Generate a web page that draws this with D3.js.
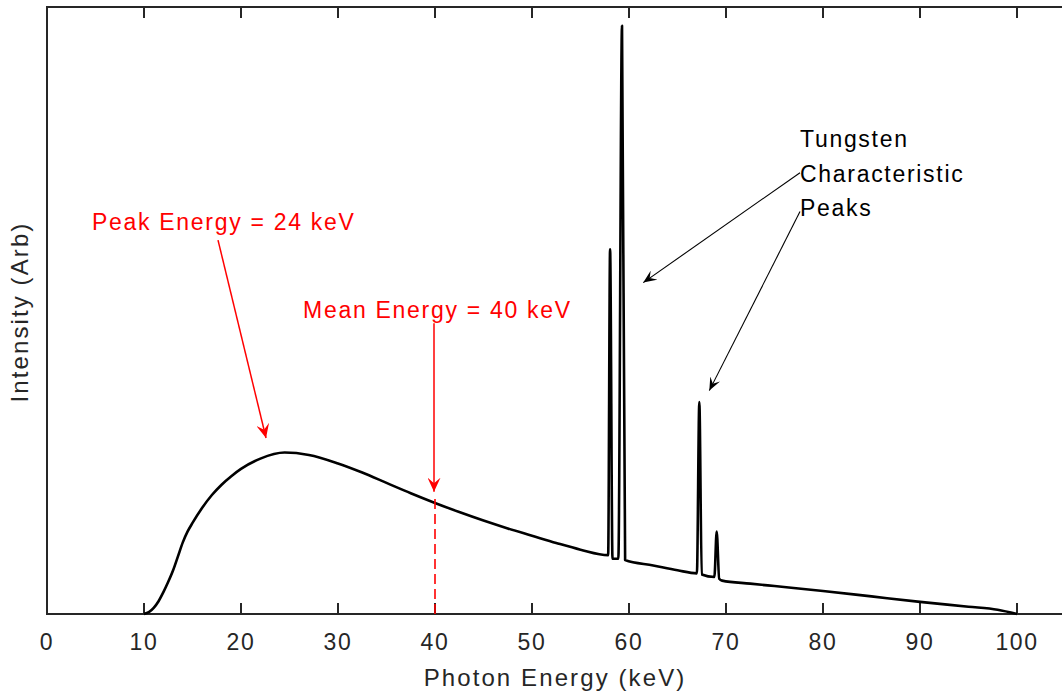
<!DOCTYPE html>
<html lang="en">
<head>
<meta charset="UTF-8">
<title>X-ray Spectrum</title>
<script src="https://cdnjs.cloudflare.com/ajax/libs/d3/7.8.5/d3.min.js"></script>
<style>
  body { margin: 0; background: #fff; }
  svg text { font-family: "Liberation Sans", Arial, Helvetica, sans-serif; }
  .tick-label { font-size: 23px; letter-spacing: 1.6px; fill: #262626; }
  .axis-label { font-size: 24px; letter-spacing: 2.1px; fill: #262626; }
  .note { font-size: 23px; letter-spacing: 1.7px; }
</style>
</head>
<body>
<div id="wrapper"></div>
<script>
// spectrum: energy in keV, intensity in axis units (0..1)
const energy = [10, 10.5, 11, 11.5, 12, 12.5, 13, 13.5, 14, 14.5, 15, 16, 17, 18, 19, 20, 22, 24.5, 27, 30,
  32.5, 35, 37.5, 40, 42.5, 45, 47.5, 50, 52.5, 55, 57.85, 58.05, 58.3, 58.9, 59.28, 59.6, 62.5, 65, 67, 67.25, 67.5,
  68.8, 69.04, 69.3, 69.6, 72.5, 75, 80, 85, 90, 95, 98, 100];
const intensity = [0, 0.003, 0.010, 0.021, 0.036, 0.053, 0.072, 0.095, 0.118, 0.136, 0.150, 0.175, 0.196, 0.213, 0.227, 0.239, 0.256, 0.266, 0.262, 0.248,
  0.233, 0.216, 0.199, 0.183, 0.168, 0.154, 0.141, 0.129, 0.117, 0.106, 0.097, 0.601, 0.091, 0.091, 0.969, 0.089, 0.080, 0.072, 0.067, 0.349, 0.065,
  0.061, 0.136, 0.058, 0.055, 0.050, 0.046, 0.038, 0.029, 0.020, 0.012, 0.007, 0];

const xTicks = [0, 10, 20, 30, 40, 50, 60, 70, 80, 90, 100];

const peakEnergy = 24;
const meanEnergy = 40;
const peakLabel = "Peak Energy = 24 keV";
const meanLabel = "Mean Energy = 40 keV";
const tungstenLines = ["Tungsten", "Characteristic", "Peaks"];

const width = 1062, height = 695;
const margin = { top: 7, left: 47, bottom: 81 };

const x = d3.scaleLinear().domain([0, 105]).range([margin.left, margin.left + 9.7 * 105]);
const y = d3.scaleLinear().domain([0, 1]).range([height - margin.bottom, margin.top]);

const svg = d3.select("#wrapper").append("svg")
  .attr("width", width).attr("height", height);

const defs = svg.append("defs");
function head(id, color, L, W) {
  defs.append("marker")
    .attr("id", id)
    .attr("markerUnits", "userSpaceOnUse")
    .attr("viewBox", `${-L} ${-W / 2} ${L} ${W}`)
    .attr("refX", 0).attr("refY", 0)
    .attr("markerWidth", L).attr("markerHeight", W)
    .attr("orient", "auto")
    .append("path")
    .attr("d", `M0,0L${-L},${-W / 2}L${-L * 0.6},0L${-L},${W / 2}Z`)
    .attr("fill", color);
}
head("redHead", "#ff0000", 14, 13);
head("blackHead", "#000", 13, 11);

// axes box
const x0 = x(0), x1 = x(105), yb = y(0), yt = y(1);
svg.append("path")
  .attr("d", `M${x1},${yt}H${x0}V${yb}H${x1}`)
  .attr("fill", "none").attr("stroke", "#262626").attr("stroke-width", 2);

const ticks = svg.append("g");
ticks.selectAll("line.b").data(xTicks).enter().append("line")
  .attr("x1", d => x(d)).attr("x2", d => x(d))
  .attr("y1", yb).attr("y2", yb - 11)
  .attr("stroke", "#262626").attr("stroke-width", 2);
ticks.selectAll("line.t").data(xTicks).enter().append("line")
  .attr("x1", d => x(d)).attr("x2", d => x(d))
  .attr("y1", yt).attr("y2", yt + 11)
  .attr("stroke", "#262626").attr("stroke-width", 2);
ticks.selectAll("text").data(xTicks).enter().append("text")
  .attr("class", "tick-label")
  .attr("x", d => x(d)).attr("y", yb + 36)
  .attr("text-anchor", "middle")
  .text(d => d);

svg.append("text").attr("class", "axis-label")
  .attr("x", 555).attr("y", 686)
  .attr("text-anchor", "middle")
  .text("Photon Energy (keV)");

svg.append("text").attr("class", "axis-label")
  .attr("transform", "translate(28,312) rotate(-90)")
  .attr("text-anchor", "middle")
  .text("Intensity (Arb)");

// spectrum
const pts = energy.map((e, i) => [e, intensity[i]]);
const line = d3.line().x(d => x(d[0])).y(d => y(d[1])).curve(d3.curveMonotoneX);
svg.append("path").datum(pts)
  .attr("d", line)
  .attr("fill", "none").attr("stroke", "#000").attr("stroke-width", 2.6)
  .attr("stroke-linejoin", "round");

// mean energy dashed marker
const meanVal = intensity[energy.indexOf(meanEnergy)];
svg.append("line")
  .attr("x1", x(meanEnergy)).attr("x2", x(meanEnergy))
  .attr("y1", y(meanVal) - 4).attr("y2", yb)
  .attr("stroke", "#ff0000").attr("stroke-width", 1.6)
  .attr("stroke-dasharray", "10,5");

// annotations
const red = "#ff0000";
svg.append("text").attr("class", "note").attr("fill", red)
  .attr("x", x(4.64)).attr("y", y(0.633)).text(peakLabel);
svg.append("line")
  .attr("x1", x(17.63)).attr("y1", y(0.616))
  .attr("x2", x(peakEnergy - 1.42)).attr("y2", y(0.29))
  .attr("stroke", red).attr("stroke-width", 1.5)
  .attr("marker-end", "url(#redHead)");

svg.append("text").attr("class", "note").attr("fill", red)
  .attr("x", x(26.4)).attr("y", y(0.488)).text(meanLabel);
svg.append("line")
  .attr("x1", x(meanEnergy) - 1).attr("y1", y(0.479))
  .attr("x2", x(meanEnergy) - 1).attr("y2", y(0.2015))
  .attr("stroke", red).attr("stroke-width", 1.5)
  .attr("marker-end", "url(#redHead)");

svg.append("g").selectAll("text").data(tungstenLines).enter().append("text")
  .attr("class", "note").attr("fill", "#000")
  .attr("x", x(77.63))
  .attr("y", (d, i) => y(0.769) + i * 34.5)
  .text(d => d);

const blackArrows = [
  { from: [77.63, 0.727], to: [61.47, 0.546] },
  { from: [77.63, 0.663], to: [68.28, 0.368] }
];
svg.append("g").selectAll("line").data(blackArrows).enter().append("line")
  .attr("x1", d => x(d.from[0])).attr("y1", d => y(d.from[1]))
  .attr("x2", d => x(d.to[0])).attr("y2", d => y(d.to[1]))
  .attr("stroke", "#000").attr("stroke-width", 1.1)
  .attr("marker-end", "url(#blackHead)");
</script>
</body>
</html>
